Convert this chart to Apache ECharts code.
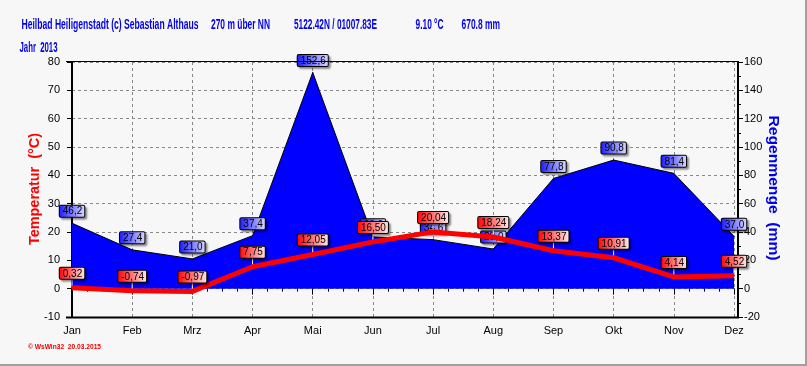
<!DOCTYPE html>
<html><head><meta charset="utf-8">
<script src="https://cdn.jsdelivr.net/npm/echarts@6/dist/echarts.min.js"></script>
<style>html,body{margin:0;padding:0;background:#f7f7f7}#c{width:807px;height:366px}</style>
</head><body><div id="c"></div>
<script>
const months = ['Jan','Feb','Mrz','Apr','Mai','Jun','Jul','Aug','Sep','Okt','Nov','Dez'];
const temperature = [0.32, -0.74, -0.97, 7.75, 12.05, 16.50, 20.04, 18.24, 13.37, 10.91, 4.14, 4.52];
const rain = [46.2, 27.4, 21.0, 37.4, 152.6, 36.6, 34.6, 28.0, 77.8, 90.8, 81.4, 37.0];
const tempTicks = {min: -10, max: 80, interval: 10};
const rainTicks = {min: -20, max: 160, interval: 20};

const chart = echarts.init(document.getElementById('c'), null, {renderer: 'canvas'});
const FONT = 'Liberation Sans, Arial, sans-serif';
const fmt = (v, d) => v.toFixed(d).replace('.', ',');

const redGrad = new echarts.graphic.LinearGradient(0, 0, 1, 0, [{offset: 0, color: '#ff0000'}, {offset: 1, color: '#ffeaea'}]);
const blueGrad = new echarts.graphic.LinearGradient(0, 0, 1, 0, [{offset: 0, color: '#1818ff'}, {offset: 1, color: '#dcdcff'}]);

function boxLabel(grad, dec, dist) {
  return {
    show: true, position: 'top', distance: dist,
    formatter: p => fmt(Array.isArray(p.value) ? p.value[1] : p.value, dec),
    fontFamily: FONT, fontSize: 10, color: '#000', lineHeight: 10,
    backgroundColor: grad, borderColor: '#000', borderWidth: 1, borderRadius: 1,
    padding: [1, 2, 0, 3],
    shadowColor: 'rgba(0,0,0,0.35)', shadowBlur: 2, shadowOffsetX: 2, shadowOffsetY: 2
  };
}

// header / axis-name texts: fit each string into its measured width by scaling along the text
const mctx = document.createElement('canvas').getContext('2d');
function fitText(text, x, y, width, font, color, rot, align) {
  mctx.font = font;
  const w = mctx.measureText(text).width;
  return {type: 'text', x: x, y: y, scaleX: width / w, rotation: rot || 0, z: 20,
    style: {text: text, font: font, fill: color, textVerticalAlign: 'middle', textAlign: align || 'left'}};
}
const HF = 'bold 14px ' + FONT;
const HC = '#0000ee';

chart.setOption({
  backgroundColor: '#f7f7f7',
  animation: false,
  grid: {left: 72, right: 73, top: 62, bottom: 49},
  xAxis: [{
    type: 'category', data: months, boundaryGap: false,
    axisLine: {show: false},
    axisTick: {show: true, length: 6, lineStyle: {color: '#000', width: 1}},
    axisLabel: {color: '#000', fontFamily: FONT, fontSize: 11, margin: 8},
    splitLine: {show: true, lineStyle: {color: '#888', type: [3, 3], width: 1}}
  }, {
    type: 'value', min: 0, max: 11, interval: 0.25, position: 'bottom',
    axisLine: {show: false}, axisLabel: {show: false}, splitLine: {show: false},
    axisTick: {show: true, length: 3, lineStyle: {color: '#000'}}
  }],
  yAxis: [{
    type: 'value', min: tempTicks.min, max: tempTicks.max, interval: tempTicks.interval,
    offset: 5, position: 'left',
    axisLine: {show: true, lineStyle: {color: '#000', width: 2}},
    axisTick: {show: true, length: 5, lineStyle: {color: '#000'}},
    axisLabel: {color: '#000', fontFamily: FONT, fontSize: 11, margin: 7},
    splitLine: {show: true, lineStyle: {color: '#888', type: [3, 3], width: 1}}
  }, {
    type: 'value', min: rainTicks.min, max: rainTicks.max, interval: rainTicks.interval,
    offset: 4, position: 'right',
    axisLine: {show: true, lineStyle: {color: '#000', width: 2}},
    axisTick: {show: true, length: 5, lineStyle: {color: '#000'}},
    minorTick: {show: true, splitNumber: 2, length: 3, lineStyle: {color: '#000'}},
    axisLabel: {color: '#000', fontFamily: FONT, fontSize: 11, margin: 6},
    splitLine: {show: false}
  }],
  series: [{
    name: 'Regen', type: 'line', yAxisIndex: 1, data: rain, z: 2,
    symbol: 'circle', symbolSize: 1, showSymbol: true,
    itemStyle: {color: '#000'},
    lineStyle: {color: '#000', width: 1},
    areaStyle: {color: '#0000ff', opacity: 1},
    label: boxLabel(blueGrad, 1, 6)
  }, {
    name: 'stems', type: 'custom', yAxisIndex: 0, z: 3,
    data: temperature.map((v, i) => [i, v]),
    renderItem: (params, api) => {
      const p = api.coord([api.value(0), api.value(1)]);
      return {type: 'line', shape: {x1: p[0], y1: p[1] - 1, x2: p[0], y2: p[1] - 9},
        style: {stroke: '#fff', lineWidth: 1}};
    }
  }, {
    name: 'Temperatur', type: 'line', yAxisIndex: 0, data: temperature, z: 4,
    symbol: 'circle', symbolSize: 2, showSymbol: true,
    itemStyle: {color: '#ff0000'},
    lineStyle: {color: '#ff0000', width: 5},
    label: boxLabel(redGrad, 2, 8)
  }],
  graphic: [
    {type: 'line', shape: {x1: 66, y1: 61.5, x2: 739, y2: 61.5}, style: {stroke: '#000', lineWidth: 1}, z: 10},
    {type: 'line', shape: {x1: 66, y1: 317.5, x2: 739, y2: 317.5}, style: {stroke: '#000', lineWidth: 2}, z: 10},
    {type: 'line', shape: {x1: 806, y1: 0, x2: 806, y2: 366}, style: {stroke: '#a0a0a0', lineWidth: 2}},
    {type: 'line', shape: {x1: 0, y1: 365, x2: 807, y2: 365}, style: {stroke: '#a0a0a0', lineWidth: 2}},
    fitText('Heilbad Heiligenstadt (c) Sebastian Althaus', 21.5, 25, 177, HF, HC),
    fitText('270 m über NN', 211, 25, 59, HF, HC),
    fitText('5122.42N / 01007.83E', 294, 25, 83, HF, HC),
    fitText('9.10 °C', 415.5, 25, 28, HF, HC),
    fitText('670.8 mm', 461.5, 25, 38.5, HF, HC),
    fitText('Jahr  2013', 19.5, 48, 38, HF, HC),
    fitText('© WsWin32  20.03.2015', 28, 347, 73, 'bold 8px ' + FONT, '#ee0000'),
    fitText('Temperatur  (°C)', 35, 189, 112, 'bold 15px ' + FONT, '#ff0000', Math.PI / 2, 'center'),
    fitText('Regenmenge  (mm)', 773, 188, 145, 'bold 15px ' + FONT, '#0000ee', -Math.PI / 2, 'center')
  ]
});
</script></body></html>
